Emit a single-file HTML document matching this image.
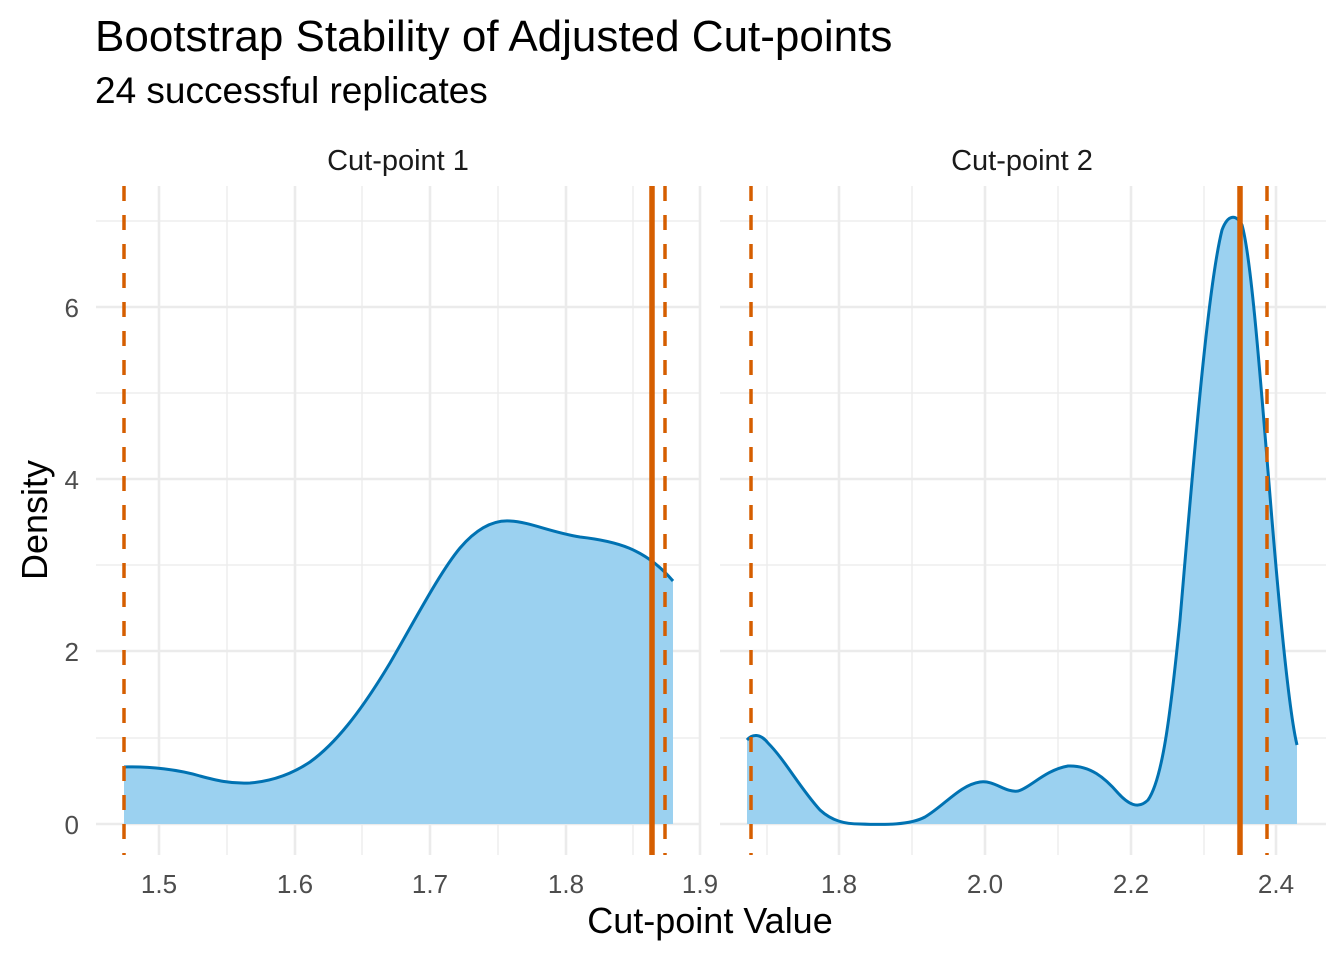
<!DOCTYPE html>
<html><head><style>body{margin:0;background:#fff}svg{display:block}</style></head><body>
<svg width="1344" height="960" xmlns="http://www.w3.org/2000/svg" font-family="Liberation Sans, sans-serif">
<rect width="1344" height="960" fill="#fff"/>
<text x="95" y="51" font-size="44" fill="#000">Bootstrap Stability of Adjusted Cut-points</text>
<text x="95" y="103" font-size="37" fill="#000">24 successful replicates</text>
<text x="398" y="170" font-size="29" fill="#1a1a1a" text-anchor="middle">Cut-point 1</text>
<text x="1022" y="170" font-size="29" fill="#1a1a1a" text-anchor="middle">Cut-point 2</text>
<g stroke="#ebebeb" stroke-width="1.3">
<line x1="96" x2="700" y1="738" y2="738"/><line x1="96" x2="700" y1="565" y2="565"/><line x1="96" x2="700" y1="393" y2="393"/><line x1="96" x2="700" y1="221" y2="221"/>
<line x1="720" x2="1326" y1="738" y2="738"/><line x1="720" x2="1326" y1="565" y2="565"/><line x1="720" x2="1326" y1="393" y2="393"/><line x1="720" x2="1326" y1="221" y2="221"/>
<line x1="227" x2="227" y1="186" y2="855"/><line x1="362" x2="362" y1="186" y2="855"/><line x1="498" x2="498" y1="186" y2="855"/><line x1="633" x2="633" y1="186" y2="855"/>
<line x1="767" x2="767" y1="186" y2="855"/><line x1="912" x2="912" y1="186" y2="855"/><line x1="1058" x2="1058" y1="186" y2="855"/><line x1="1204" x2="1204" y1="186" y2="855"/>
</g>
<g stroke="#ebebeb" stroke-width="2.6">
<line x1="96" x2="700" y1="824" y2="824"/><line x1="96" x2="700" y1="651" y2="651"/><line x1="96" x2="700" y1="479" y2="479"/><line x1="96" x2="700" y1="307" y2="307"/>
<line x1="720" x2="1326" y1="824" y2="824"/><line x1="720" x2="1326" y1="651" y2="651"/><line x1="720" x2="1326" y1="479" y2="479"/><line x1="720" x2="1326" y1="307" y2="307"/>
<line x1="159" x2="159" y1="186" y2="855"/><line x1="295" x2="295" y1="186" y2="855"/><line x1="430" x2="430" y1="186" y2="855"/><line x1="566" x2="566" y1="186" y2="855"/><line x1="700" x2="700" y1="186" y2="855"/>
<line x1="839" x2="839" y1="186" y2="855"/><line x1="985" x2="985" y1="186" y2="855"/><line x1="1131" x2="1131" y1="186" y2="855"/><line x1="1276" x2="1276" y1="186" y2="855"/>
</g>
<path id="c1" d="M124,767 C150,766 180,770 200,776 C215,780 230,784 250,783 C275,781 295,772 310,762 C335,744 360,713 390,663 C415,620 440,572 460,548 C478,527 495,520 510,521 C530,522 550,532 580,537 C615,541 645,548 673,581" fill="none"/>
<path d="M124,824 L124,767 C150,766 180,770 200,776 C215,780 230,784 250,783 C275,781 295,772 310,762 C335,744 360,713 390,663 C415,620 440,572 460,548 C478,527 495,520 510,521 C530,522 550,532 580,537 C615,541 645,548 673,581 L673,824 Z" fill="#9bd1f0"/>
<path d="M124,767 C150,766 180,770 200,776 C215,780 230,784 250,783 C275,781 295,772 310,762 C335,744 360,713 390,663 C415,620 440,572 460,548 C478,527 495,520 510,521 C530,522 550,532 580,537 C615,541 645,548 673,581" fill="none" stroke="#0072b2" stroke-width="3"/>
<path d="M747,824 L747,740 C752,734 760,733 768,743 C785,760 800,788 820,810 C832,821 845,824 860,824 C885,825 910,825 925,817 C945,805 960,785 980,782 C995,780 1005,793 1018,791 C1030,788 1045,770 1068,766 C1090,765 1105,778 1118,793 C1128,804 1138,810 1148,800 C1162,780 1170,720 1180,620 C1192,480 1207,290 1222,230 C1228,214 1236,214 1242,225 C1252,260 1262,400 1272,520 C1282,640 1291,720 1297,745 L1297,824 Z" fill="#9bd1f0"/>
<path d="M747,740 C752,734 760,733 768,743 C785,760 800,788 820,810 C832,821 845,824 860,824 C885,825 910,825 925,817 C945,805 960,785 980,782 C995,780 1005,793 1018,791 C1030,788 1045,770 1068,766 C1090,765 1105,778 1118,793 C1128,804 1138,810 1148,800 C1162,780 1170,720 1180,620 C1192,480 1207,290 1222,230 C1228,214 1236,214 1242,225 C1252,260 1262,400 1272,520 C1282,640 1291,720 1297,745" fill="none" stroke="#0072b2" stroke-width="3"/>
<g stroke="#d55e00" stroke-width="3.5" stroke-dasharray="15,14">
<line x1="124" x2="124" y1="186" y2="855"/><line x1="665" x2="665" y1="186" y2="855"/>
<line x1="751" x2="751" y1="186" y2="855"/><line x1="1267" x2="1267" y1="186" y2="855"/>
</g>
<line x1="652" x2="652" y1="186" y2="855" stroke="#d55e00" stroke-width="5.5"/>
<line x1="1240" x2="1240" y1="186" y2="855" stroke="#d55e00" stroke-width="5.5"/>
<g font-size="26" fill="#4d4d4d" text-anchor="end">
<text x="79" y="834">0</text><text x="79" y="661">2</text><text x="79" y="489">4</text><text x="79" y="317">6</text>
</g>
<g font-size="26" fill="#4d4d4d" text-anchor="middle">
<text x="159" y="893">1.5</text><text x="295" y="893">1.6</text><text x="430" y="893">1.7</text><text x="566" y="893">1.8</text><text x="700" y="893">1.9</text>
<text x="839" y="893">1.8</text><text x="985" y="893">2.0</text><text x="1131" y="893">2.2</text><text x="1276" y="893">2.4</text>
</g>
<text x="710" y="933" font-size="36" fill="#000" text-anchor="middle">Cut-point Value</text>
<text transform="translate(47,520) rotate(-90)" font-size="36" fill="#000" text-anchor="middle">Density</text>
</svg>
</body></html>
